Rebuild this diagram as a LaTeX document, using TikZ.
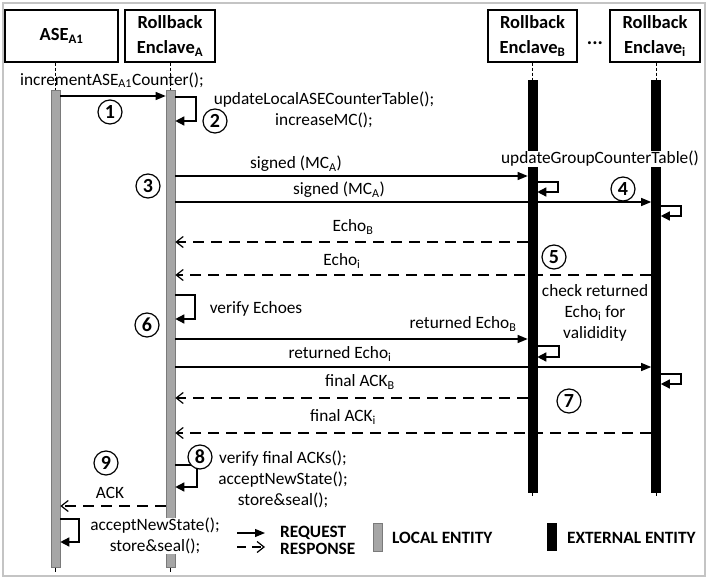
\documentclass[tikz,border=0pt]{standalone}
\usepackage{fontspec}
\setmainfont{Carlito}
\usetikzlibrary{arrows.meta}
\definecolor{barGray}{HTML}{A6A6A6}
\definecolor{barEdge}{HTML}{7A7A7A}
\definecolor{frameGray}{HTML}{C4C4C4}
\tikzset{
  req/.style={line width=1.2pt, -{Triangle[length=10pt,width=8pt]}},
  resp/.style={line width=1.2pt, dash pattern=on 11pt off 7pt, -{Straight Barb[length=7pt,width=11pt,line width=1.2pt]}},
  selfloop/.style={line width=1.5pt, -{Triangle[length=9pt,width=9pt]}},
  hdr/.style={draw, line width=1.5pt, minimum height=52pt, align=center, font=\fontsize{18.5}{25}\selectfont\bfseries, inner sep=0pt},
  lbl/.style={font=\fontsize{17.3}{21}\selectfont, inner sep=0pt, align=center},
  lgd/.style={font=\fontsize{17.3}{17}\selectfont\bfseries, inner sep=0pt, anchor=west},
  num/.style={circle, draw, line width=1.2pt, minimum size=24pt, inner sep=0pt, font=\fontsize{20}{20}\selectfont\bfseries, fill=white},
  localbar/.style={rectangle, draw=barEdge, fill=barGray, minimum width=9pt, inner sep=0pt, line width=0.6pt, anchor=north},
  extbar/.style={rectangle, fill=black, draw=black, minimum width=9pt, inner sep=0pt, line width=0.6pt, anchor=north},
  tick/.style={line width=0.6pt, dash pattern=on 3pt off 2pt},
}
\begin{document}
\begin{tikzpicture}[x=1pt, y=-1pt]
\useasboundingbox (0,0) rectangle (710,580);
\draw[frameGray, line width=1.5pt] (3,3) rectangle (705,576);

% headers
\node[hdr, minimum width=113pt] (hASE) at (61.5,36) {ASE\textsubscript{A1}};
\node[hdr, minimum width=90pt] (hA) at (170,36) {Rollback\\Enclave\textsubscript{A}};
\node[hdr, minimum width=89pt] (hB) at (532.5,36) {Rollback\\Enclave\textsubscript{B}};
\node[hdr, minimum width=90pt] (hI) at (655,36) {Rollback\\Enclave\textsubscript{i}};
\node[font=\fontsize{20}{20}\selectfont\bfseries, inner sep=0pt] (dots) at (595,43) {...};

% bars
\node[localbar, minimum height=477pt] (bASE) at (55.5,90) {};
\node[localbar, minimum height=477pt] (bA) at (170.5,90) {};
\node[extbar, minimum height=412pt] (bB) at (532.5,80) {};
\node[extbar, minimum height=412pt] (bI) at (656,80) {};

% lifeline ticks
\draw[tick] (bASE.north |- hASE.south) -- (bASE.north);
\draw[tick] (bA.north |- hA.south) -- (bA.north);
\draw[tick] (bB.north |- hB.south) -- (bB.north);
\draw[tick] (bI.north |- hI.south) -- (bI.north);
\coordinate (tASE) at (55.5,572);
\coordinate (tA) at (170.5,572);
\coordinate (tB) at (532.5,496);
\coordinate (tI) at (656,496);
\draw[line width=0.6pt] (bASE.south) -- (tASE);
\draw[line width=0.6pt] (bA.south) -- (tA);
\draw[line width=0.6pt] (bB.south) -- (tB);
\draw[line width=0.6pt] (bI.south) -- (tI);

% step 1
\node[lbl] (t1) at (112,80) {incrementASE\textsubscript{A1}Counter();};
\draw[req] (bASE.east |- 0,96) -- (bA.west |- 0,96);
\node[num] (n1) at (110,112) {1};

% step 2
\draw[selfloop] (bA.east |- 0,97) -- (196,97) -- (196,121) -- (bA.east |- 0,121);
\node[num] (n2) at (215,121) {2};
\node[lbl] (t2) at (324,110) {updateLocalASECounterTable();\\increaseMC();};

% step 3
\node[lbl] (t3a) at (296,164) {signed (MC\textsubscript{A})};
\draw[req] (bA.east |- 0,176) -- (bB.west |- 0,176);
\node[lbl] (t3b) at (339,190) {signed (MC\textsubscript{A})};
\draw[req] (bA.east |- 0,202) -- (bI.west |- 0,202);
\node[num] (n3) at (148,186) {3};

% step 4
\node[lbl, fill=white] (t4) at (600,159) {updateGroupCounterTable()};
\draw[selfloop] (bB.east |- 0,182) -- (558,182) -- (558,192) -- (bB.east |- 0,192);
\node[num] (n4) at (623,189) {4};
\draw[selfloop] (bI.east |- 0,206) -- (681,206) -- (681,216) -- (bI.east |- 0,216);

% step 5
\node[lbl] (t5a) at (353,227) {Echo\textsubscript{B}};
\draw[resp] (bB.west |- 0,242) -- (bA.east |- 0,242);
\node[lbl] (t5b) at (342,261) {Echo\textsubscript{i}};
\draw[resp] (bI.west |- 0,275) -- (bA.east |- 0,275);
\node[num] (n5) at (554,257) {5};
\node[lbl] (t5c) at (595,313) {check returned\\Echo\textsubscript{i} for\\valididity};

% step 6
\draw[selfloop] (bA.east |- 0,295) -- (195,295) -- (195,319) -- (bA.east |- 0,319);
\node[lbl] (t6) at (256,309) {verify Echoes};
\node[num] (n6) at (147,325) {6};
\node[lbl] (t6a) at (463,324) {returned Echo\textsubscript{B}};
\draw[req] (bA.east |- 0,339) -- (bB.west |- 0,339);
\draw[selfloop] (bB.east |- 0,346) -- (559,346) -- (559,357) -- (bB.east |- 0,357);
\node[lbl] (t6b) at (340,354) {returned Echo\textsubscript{i}};
\draw[req] (bA.east |- 0,367) -- (bI.west |- 0,367);
\draw[selfloop] (bI.east |- 0,374) -- (681,374) -- (681,384) -- (bI.east |- 0,384);

% step 7
\node[lbl] (t7a) at (360,382) {final ACK\textsubscript{B}};
\draw[resp] (bB.west |- 0,398) -- (bA.east |- 0,398);
\node[num] (n7) at (569,401) {7};
\node[lbl] (t7b) at (343,417) {final ACK\textsubscript{i}};
\draw[resp] (bI.west |- 0,433) -- (bA.east |- 0,433);

% step 8
\draw[selfloop] (bA.east |- 0,465) -- (197,465) -- (197,487) -- (bA.east |- 0,487);
\node[num] (n8) at (200,457) {8};
\node[lbl] (t8) at (283,479) {verify final ACKs();\\acceptNewState();\\store\&seal();};

% step 9
\node[num] (n9) at (106,463) {9};
\node[lbl] (t9a) at (110,493) {ACK};
\draw[resp] (bA.west |- 0,506) -- (bASE.east |- 0,506);
\draw[selfloop] (bASE.east |- 0,519) -- (79,519) -- (79,542) -- (bASE.east |- 0,542);
\node[lbl, fill=white] (t9b) at (155,536) {acceptNewState();\\store\&seal();};

% legend
\coordinate (lq1) at (237,533);
\coordinate (lq2) at (265,533);
\coordinate (lr1) at (237,547);
\coordinate (lr2) at (265,547);
\draw[req] (lq1) -- (lq2);
\draw[resp, dash pattern=on 9pt off 6pt] (lr1) -- (lr2);
\node[lgd] (lgq) at (280,533) {REQUEST};
\node[lgd] (lgr) at (280,549) {RESPONSE};
\node[localbar, minimum height=28pt] (lgl) at (377.5,523) {};
\node[lgd] (lglt) at (392,538) {LOCAL ENTITY};
\node[extbar, minimum height=27pt] (lge) at (552,523) {};
\node[lgd] (lget) at (567,538) {EXTERNAL ENTITY};
\end{tikzpicture}
\end{document}
